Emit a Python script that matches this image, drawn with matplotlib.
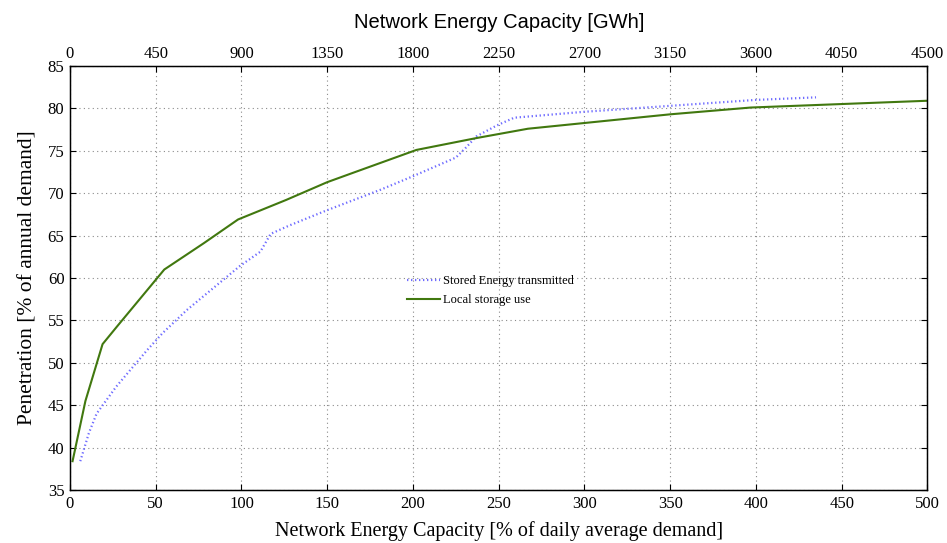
import numpy as np
import matplotlib.pyplot as plt

# values
local_x = [1.5, 9, 19, 27.5, 55, 78, 98, 126, 150, 165, 202, 237, 267, 350, 397, 500]
local_y = [38.4, 45.5, 52.2, 54.3, 61.0, 64.1, 66.9, 69.2, 71.3, 72.4, 75.1, 76.5, 77.6, 79.3, 80.1, 80.9]

stored_x = [6, 11, 15.5, 27, 45, 54, 68, 99, 111, 117, 128, 150, 181, 200, 225, 231, 237, 249, 259,
            300, 350, 400, 435]
stored_y = [38.4, 41.7, 44.0, 47.2, 51.5, 53.5, 56.2, 61.4, 63.1, 65.2, 66.2, 68.0, 70.4, 72.0, 74.2,
            75.4, 76.7, 78.0, 78.9, 79.6, 80.3, 81.0, 81.3]

bottom_ticks = np.arange(0, 501, 50)
top_ticks = np.arange(0, 4501, 450)
y_ticks = np.arange(35, 86, 5)

serif = 'Liberation Serif'
sans = 'Liberation Sans'

fig = plt.figure(figsize=(9.47, 5.43), dpi=100)
ax = fig.add_axes([0.0739, 0.0976, 0.9055, 0.7809])

ax.plot(stored_x, stored_y, linestyle=(0, (0.6, 1.2)), color='#6f6cff', linewidth=1.6,
        label='Stored Energy transmitted')
ax.plot(local_x, local_y, linestyle='-', color='#41780f', linewidth=1.5, label='Local storage use')

ax.set_xlim(0, 500)
ax.set_ylim(35, 85)
ax.set_xticks(bottom_ticks)
ax.set_yticks(y_ticks)
ax.grid(True, linestyle=(0, (1, 3)), color='#8a8a8a', linewidth=0.8)
ax.tick_params(direction='in', top=False, right=True, length=4, labelsize=12, pad=4)
for lbl in ax.get_xticklabels() + ax.get_yticklabels():
    lbl.set_fontfamily(serif)

ax.set_xlabel('Network Energy Capacity [% of daily average demand]', fontsize=14.5, family=serif, labelpad=7)
ax.set_ylabel('Penetration [% of annual demand]', fontsize=15.5, family=serif, labelpad=7)

ax2 = ax.twiny()
ax2.set_xlim(0, 4500)
ax2.set_xticks(top_ticks)
ax2.tick_params(direction='in', length=4, labelsize=12, pad=3)
for lbl in ax2.get_xticklabels():
    lbl.set_fontfamily(serif)
ax2.set_xlabel('Network Energy Capacity [GWh]', fontsize=14.5, family=sans, labelpad=13)

for sp in ax.spines.values():
    sp.set_linewidth(1.0)

ax.legend(loc='center left', bbox_to_anchor=(0.38, 0.47), frameon=False,
          prop={'family': serif, 'size': 9}, handlelength=2.6, handletextpad=0.3, labelspacing=0.6)

fig.savefig('out.png', dpi=100)
